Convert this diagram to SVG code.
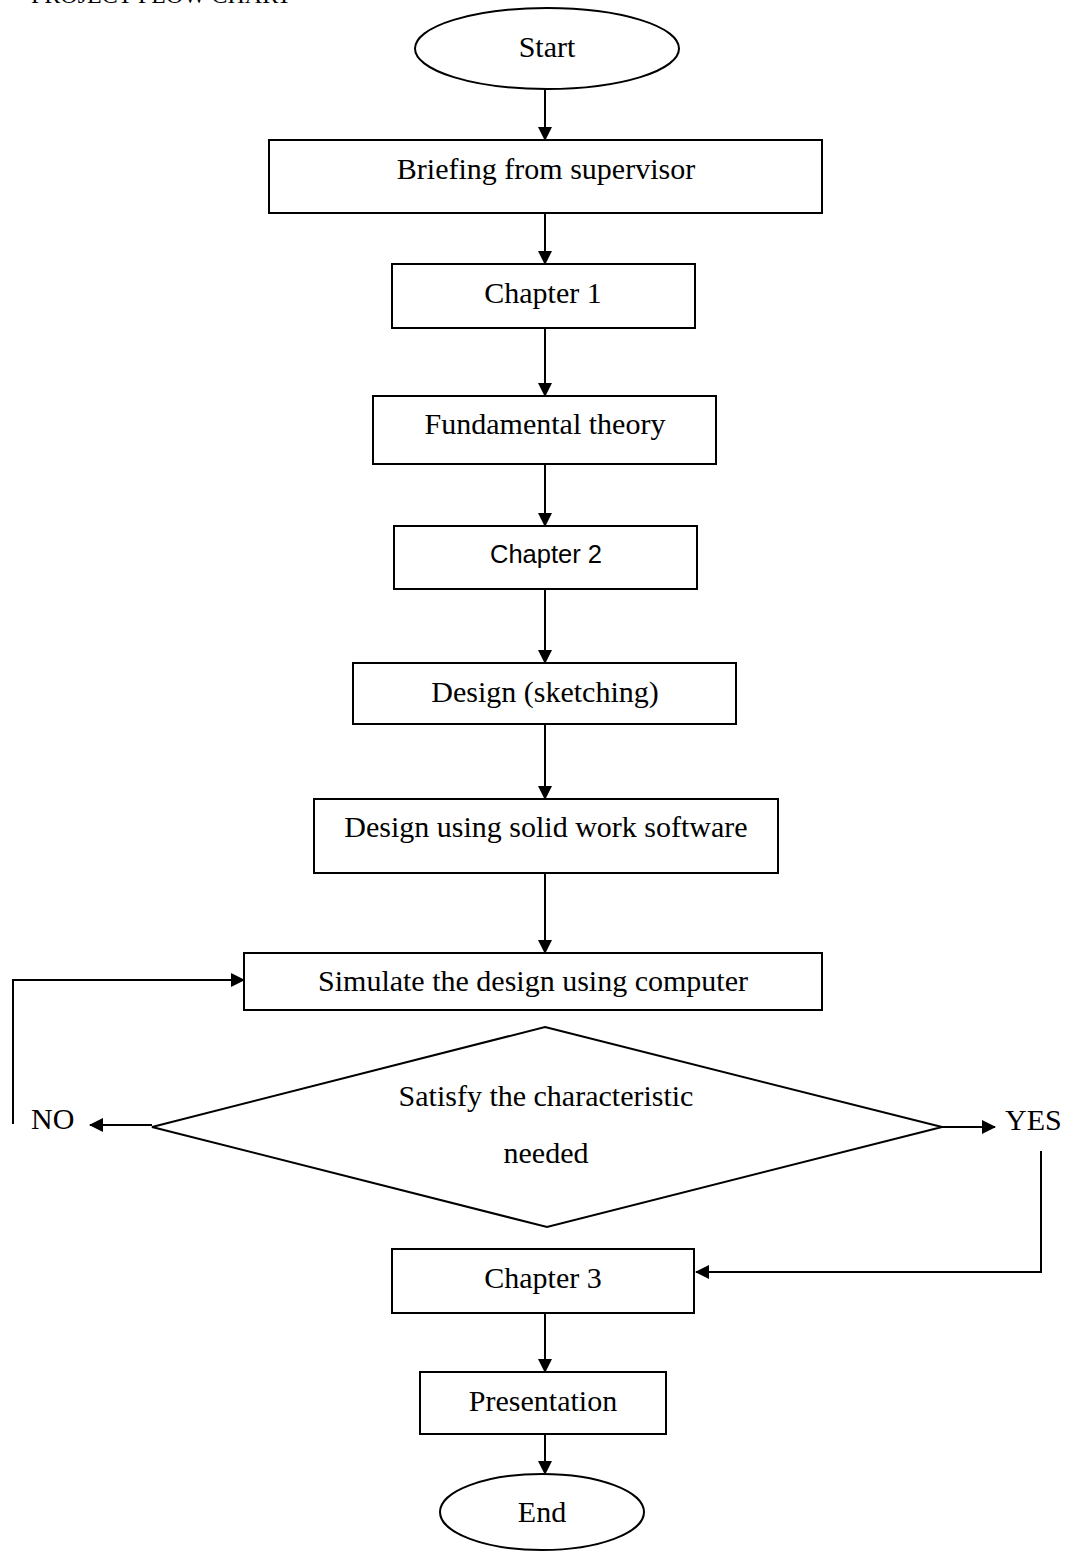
<svg xmlns="http://www.w3.org/2000/svg" width="1071" height="1552" viewBox="0 0 1071 1552">
<style>
.shape{fill:#fff;stroke:#000;stroke-width:2}
.t{font-family:"Liberation Serif","Times New Roman",serif;font-size:30px;fill:#000}
.c{text-anchor:middle}
.s{font-family:"Liberation Sans",Arial,sans-serif;font-size:25.5px;fill:#000;text-anchor:middle}
.ln{fill:none;stroke:#000;stroke-width:2}
</style>
<defs>
<marker id="ah" viewBox="0 0 14 14" refX="13" refY="7" markerWidth="14" markerHeight="14" markerUnits="userSpaceOnUse" orient="auto">
<path d="M0,0 L14,7 L0,14 Z" fill="#000"/>
</marker>
</defs>
<rect width="1071" height="1552" fill="#fff"/>
<text class="t" x="31" y="3" style="font-size:24px">PROJECT FLOW CHART</text>
<g id="connectors">
<line class="ln" x1="545" y1="89" x2="545" y2="140" marker-end="url(#ah)"/>
<line class="ln" x1="545" y1="213" x2="545" y2="264" marker-end="url(#ah)"/>
<line class="ln" x1="545" y1="328" x2="545" y2="396" marker-end="url(#ah)"/>
<line class="ln" x1="545" y1="464" x2="545" y2="526" marker-end="url(#ah)"/>
<line class="ln" x1="545" y1="589" x2="545" y2="663" marker-end="url(#ah)"/>
<line class="ln" x1="545" y1="724" x2="545" y2="799" marker-end="url(#ah)"/>
<line class="ln" x1="545" y1="873" x2="545" y2="953" marker-end="url(#ah)"/>
<line class="ln" x1="152" y1="1125" x2="90" y2="1125" marker-end="url(#ah)"/>
<polyline class="ln" points="13,1124 13,980 244,980" marker-end="url(#ah)"/>
<line class="ln" x1="942" y1="1127" x2="995" y2="1127" marker-end="url(#ah)"/>
<polyline class="ln" points="1041,1151 1041,1272 696,1272" marker-end="url(#ah)"/>
<line class="ln" x1="545" y1="1313" x2="545" y2="1372" marker-end="url(#ah)"/>
<line class="ln" x1="545" y1="1434" x2="545" y2="1474" marker-end="url(#ah)"/>
</g>
<g id="start">
<ellipse class="shape" cx="547" cy="48.5" rx="132" ry="40.5"/>
<text class="t c" x="547" y="57">Start</text>
</g>
<g id="briefing">
<rect class="shape" x="269" y="140" width="553" height="73"/>
<text class="t c" x="546" y="179">Briefing from supervisor</text>
</g>
<g id="chapter1">
<rect class="shape" x="392" y="264" width="303" height="64"/>
<text class="t c" x="543" y="303">Chapter 1</text>
</g>
<g id="fundamental">
<rect class="shape" x="373" y="396" width="343" height="68"/>
<text class="t c" x="545" y="434">Fundamental theory</text>
</g>
<g id="chapter2">
<rect class="shape" x="394" y="526" width="303" height="63"/>
<text class="s" x="546" y="563">Chapter 2</text>
</g>
<g id="sketching">
<rect class="shape" x="353" y="663" width="383" height="61"/>
<text class="t c" x="545" y="702">Design (sketching)</text>
</g>
<g id="solidwork">
<rect class="shape" x="314" y="799" width="464" height="74"/>
<text class="t c" x="546" y="837">Design using solid work software</text>
</g>
<g id="simulate">
<rect class="shape" x="244" y="953" width="578" height="57"/>
<text class="t c" x="533" y="991">Simulate the design using computer</text>
</g>
<g id="decision">
<polygon class="shape" points="545,1027 942,1127 547,1227 152,1127"/>
<text class="t c" x="546" y="1106">Satisfy the characteristic</text>
<text class="t c" x="546" y="1163">needed</text>
</g>
<g id="no-label"><text class="t" x="31" y="1129">NO</text></g>
<g id="yes-label"><text class="t" x="1005" y="1130">YES</text></g>
<g id="chapter3">
<rect class="shape" x="392" y="1249" width="302" height="64"/>
<text class="t c" x="543" y="1288">Chapter 3</text>
</g>
<g id="presentation">
<rect class="shape" x="420" y="1372" width="246" height="62"/>
<text class="t c" x="543" y="1411">Presentation</text>
</g>
<g id="end">
<ellipse class="shape" cx="542" cy="1512" rx="102" ry="38"/>
<text class="t c" x="542" y="1522">End</text>
</g>
</svg>
